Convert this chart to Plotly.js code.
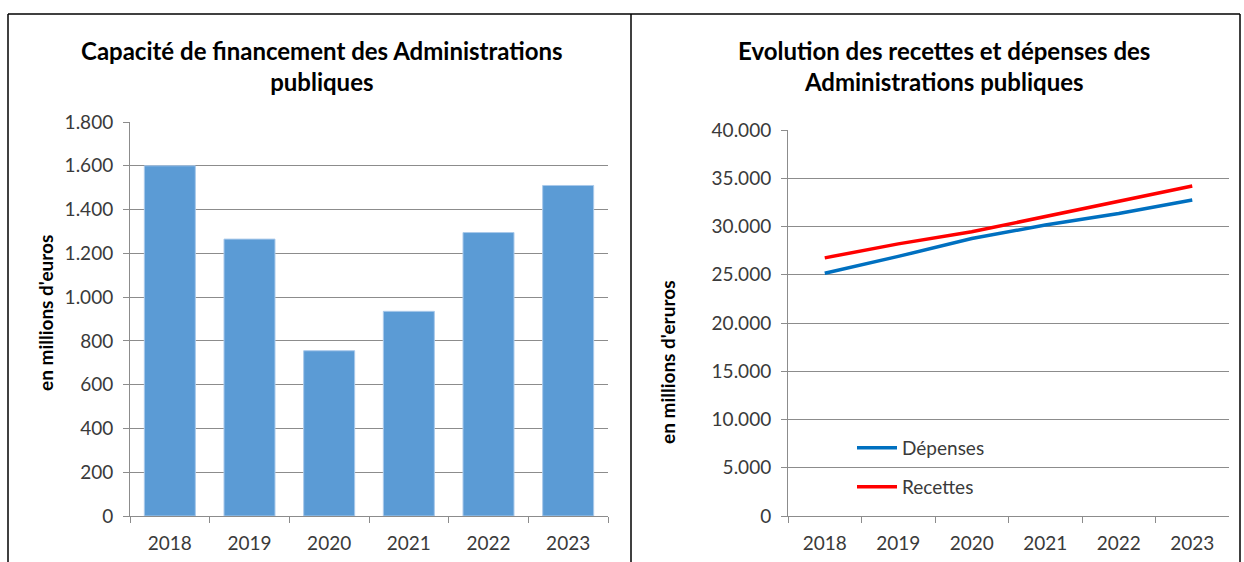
<!DOCTYPE html>
<html>
<head>
<meta charset="utf-8">
<script src="https://cdn.plot.ly/plotly-3.0.1.min.js"></script>
<style>html,body{margin:0;padding:0;background:#fff;}#chart{width:1244px;height:562px;}</style>
</head>
<body>
<div id="chart"></div>
<script>
const years = ["2018", "2019", "2020", "2021", "2022", "2023"];
const capacite = [1600, 1265, 755, 935, 1295, 1510];
const depenses = [25150, 26900, 28750, 30150, 31350, 32750];
const recettes = [26750, 28200, 29450, 31050, 32600, 34200];
const leftTitle = "Capacité de financement des Administrations<br>publiques";
const rightTitle = "Evolution des recettes et dépenses des<br>Administrations publiques";
const leftYTitle = "en millions d'euros";
const rightYTitle = "en millions d'eruros";

const W = 1244, H = 562;
const px = x => x / W;
const py = y => (H - y) / H;
const FONT = "Lato, 'Open Sans', sans-serif";
const tickFont = {family: FONT, size: 19, color: "#3a3a3a"};
const grid = "#8c8c8c";

const traces = [
  {type: "bar", x: years, y: capacite, xaxis: "x", yaxis: "y",
   marker: {color: "#5B9BD5", line: {color: "#a9c9ea", width: 1}},
   showlegend: false, hoverinfo: "x+y"},
  {type: "scatter", mode: "lines", x: years, y: depenses, xaxis: "x2", yaxis: "y2",
   name: "Dépenses", line: {color: "#0070C0", width: 3.5}, legend: "legend"},
  {type: "scatter", mode: "lines", x: years, y: recettes, xaxis: "x2", yaxis: "y2",
   name: "Recettes", line: {color: "#FF0000", width: 3.5}, legend: "legend2"}
];

const xax = (dom, anchor) => ({
  domain: dom, anchor: anchor, type: "category", tickson: "boundaries",
  range: [-0.5, years.length - 0.5],
  ticks: "outside", ticklen: 6, tickcolor: grid, showline: true, linecolor: grid,
  linewidth: 1, showgrid: false, tickfont: tickFont, ticklabelstandoff: 10, fixedrange: true
});
const yax = (dom, anchor, range, dtick) => ({
  domain: dom, anchor: anchor, range: range, dtick: dtick, tickformat: ",d",
  ticks: "outside", ticklen: 6, tickcolor: grid, showline: true, linecolor: grid,
  linewidth: 1, showgrid: true, gridcolor: grid, gridwidth: 1, zeroline: false,
  tickfont: tickFont, ticklabelstandoff: 6, fixedrange: true
});

const legendBase = {
  bgcolor: "rgba(0,0,0,0)", borderwidth: 0, font: {family: FONT, size: 19, color: "#3a3a3a"},
  xanchor: "left", yanchor: "middle", itemwidth: 40, tracegroupgap: 0
};

const ann = (text, x, y, size, angle) => ({
  text: "<b>" + text + "</b>", xref: "paper", yref: "paper", x: px(x), y: py(y),
  xanchor: "center", yanchor: "middle", textangle: angle || 0, showarrow: false,
  align: "center", font: {family: FONT, size: size, color: "#000"}
});

const layout = {
  width: W, height: H,
  margin: {l: 0, r: 0, t: 0, b: 0},
  paper_bgcolor: "#fff", plot_bgcolor: "#fff",
  separators: ",.",
  bargap: 0.36,
  font: {family: FONT},
  xaxis: xax([px(130), px(608)], "y"),
  yaxis: yax([py(516), py(122)], "x", [0, 1800], 200),
  xaxis2: xax([px(788), px(1229)], "y2"),
  yaxis2: yax([py(516), py(130)], "x2", [0, 40000], 5000),
  legend: Object.assign({}, legendBase, {x: px(852), y: py(448)}),
  legend2: Object.assign({}, legendBase, {x: px(852), y: py(487)}),
  annotations: [
    ann(leftTitle, 322, 66, 24),
    ann(rightTitle, 944, 66, 24),
    ann(leftYTitle, 45, 313, 19, -90),
    ann(rightYTitle, 667, 363, 19, -90)
  ],
  shapes: [
    {type: "line", xref: "paper", yref: "paper", x0: px(8), x1: px(1240), y0: py(14), y1: py(14), line: {color: "#000", width: 1.5}},
    {type: "line", xref: "paper", yref: "paper", x0: px(8), x1: px(8), y0: py(14), y1: 0, line: {color: "#000", width: 1.5}},
    {type: "line", xref: "paper", yref: "paper", x0: px(631), x1: px(631), y0: py(14), y1: 0, line: {color: "#000", width: 1.5}},
    {type: "line", xref: "paper", yref: "paper", x0: px(1240), x1: px(1240), y0: py(14), y1: 0, line: {color: "#000", width: 1.5}}
  ]
};

Plotly.newPlot("chart", traces, layout, {displayModeBar: false, staticPlot: true});
</script>
</body>
</html>
